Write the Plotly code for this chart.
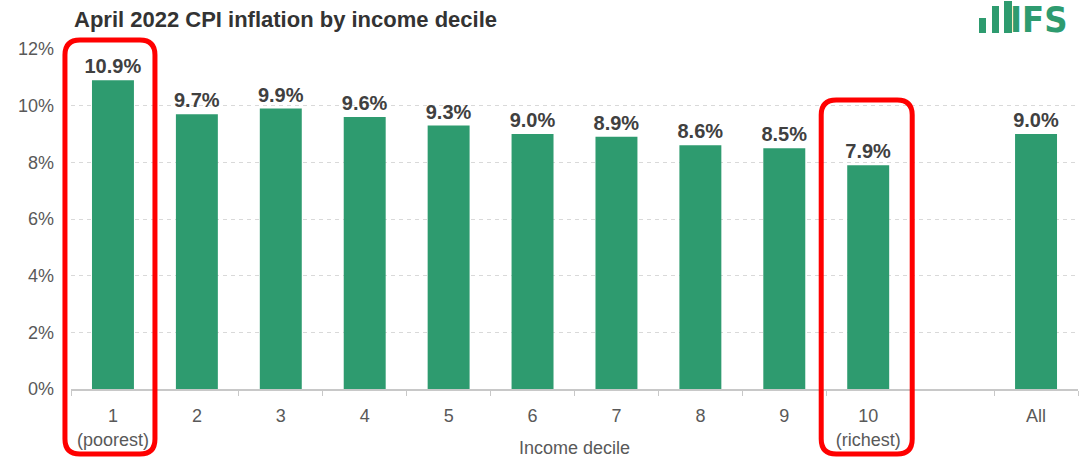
import plotly.graph_objects as go

# Income deciles, a blank spacer slot, then the all-household figure
categories = ["1", "2", "3", "4", "5", "6", "7", "8", "9", "10", " ", "All"]
tick_labels = ["1<br>(poorest)", "2", "3", "4", "5", "6", "7", "8", "9",
               "10<br>(richest)", "", "All"]
inflation = [10.9, 9.7, 9.9, 9.6, 9.3, 9.0, 8.9, 8.6, 8.5, 7.9, None, 9.0]
highlighted = ["1", "10"]

GREEN = "#2e9b6f"
GREY_TEXT = "#595959"
FONT = "Liberation Sans, Arial, sans-serif"

labels = ["" if v is None else f"{v:.1f}%" for v in inflation]

fig = go.Figure(go.Bar(
    x=categories,
    y=inflation,
    text=labels,
    textposition="outside",
    constraintext="none",
    cliponaxis=False,
    textfont=dict(family=FONT, size=20, color="#404040", weight="bold"),
    marker=dict(color=GREEN, line=dict(width=0)),
    hoverinfo="skip",
))

# red rounded outlines around the poorest and richest deciles
def rounded_rect(x0, x1, y0, y1, r):
    return (f"M {x0 + r} {y1} L {x1 - r} {y1} Q {x1} {y1} {x1} {y1 - r} "
            f"L {x1} {y0 + r} Q {x1} {y0} {x1 - r} {y0} "
            f"L {x0 + r} {y0} Q {x0} {y0} {x0} {y0 + r} "
            f"L {x0} {y1 - r} Q {x0} {y1} {x0 + r} {y1} Z")

n_slots = len(categories)
box_extents = {"1": (-48, 42, -65, 349), "10": (-47, 44, -65, 289)}
shapes = []
for cat in highlighted:
    x0, x1, y0, y1 = box_extents[cat]
    slot_centre = (categories.index(cat) + 0.5) / n_slots
    shapes.append(dict(
        type="path", xref="paper", yref="paper",
        xsizemode="pixel", ysizemode="pixel",
        xanchor=slot_centre, yanchor=0,
        path=rounded_rect(x0, x1, y0, y1, 15),
        line=dict(color="#ff0000", width=5),
        fillcolor="rgba(0,0,0,0)", layer="above",
    ))

# IFS logo: three rising bars beside the letters
for bx0, bx1, top in [(-99, -92, 31), (-86, -79, 43), (-74, -66, 48)]:
    shapes.append(dict(
        type="rect", xref="paper", yref="paper",
        xsizemode="pixel", ysizemode="pixel", xanchor=1, yanchor=1,
        x0=bx0, x1=bx1, y0=16, y1=top,
        fillcolor=GREEN, line=dict(width=0),
    ))

fig.update_layout(
    width=1091, height=459,
    margin=dict(l=71, r=13, t=49, b=70),
    paper_bgcolor="white", plot_bgcolor="white",
    font=dict(family=FONT, size=18, color=GREY_TEXT),
    showlegend=False,
    bargap=0.5,
    title=dict(
        text="<b>April 2022 CPI inflation by income decile</b>",
        font=dict(family=FONT, size=22, color="#333333"),
        x=74 / 1091, xanchor="left", xref="container",
        y=1 - 19 / 459, yanchor="middle", yref="container",
    ),
    shapes=shapes,
    annotations=[
        dict(
            text="<b>IFS</b>", xref="paper", yref="paper", x=1, y=1,
            xanchor="right", yanchor="middle", xshift=-8, yshift=30,
            showarrow=False,
            font=dict(family="Liberation Sans Narrow, DejaVu Sans Condensed, Arial Narrow, sans-serif",
                      size=36, color=GREEN),
        ),
        dict(
            text="Income decile", xref="paper", yref="paper", x=0.5, y=0,
            xanchor="center", yanchor="bottom", yshift=-70, borderpad=0,
            showarrow=False,
            font=dict(family=FONT, size=18, color=GREY_TEXT),
        ),
    ],
    xaxis=dict(
        type="category", automargin=False,
        categoryorder="array", categoryarray=categories,
        tickvals=categories, ticktext=tick_labels,
        tickson="boundaries",
        ticks="outside", ticklen=5, tickcolor="#c8c8c8",
        showline=True, linecolor="#c8c8c8", linewidth=1.5,
        showgrid=False,
        tickfont=dict(size=18, color=GREY_TEXT),
        ticklabelstandoff=10,
    ),
    yaxis=dict(
        range=[0, 12], dtick=2, automargin=False,
        tickformat=".0f", ticksuffix="%",
        showgrid=True, gridcolor="#d9d9d9", griddash="4px,4px", gridwidth=1,
        zeroline=False, showline=False, ticks="",
        tickfont=dict(size=18, color=GREY_TEXT),
        ticklabelstandoff=16,
    ),
)

fig.write_html("out.html")
